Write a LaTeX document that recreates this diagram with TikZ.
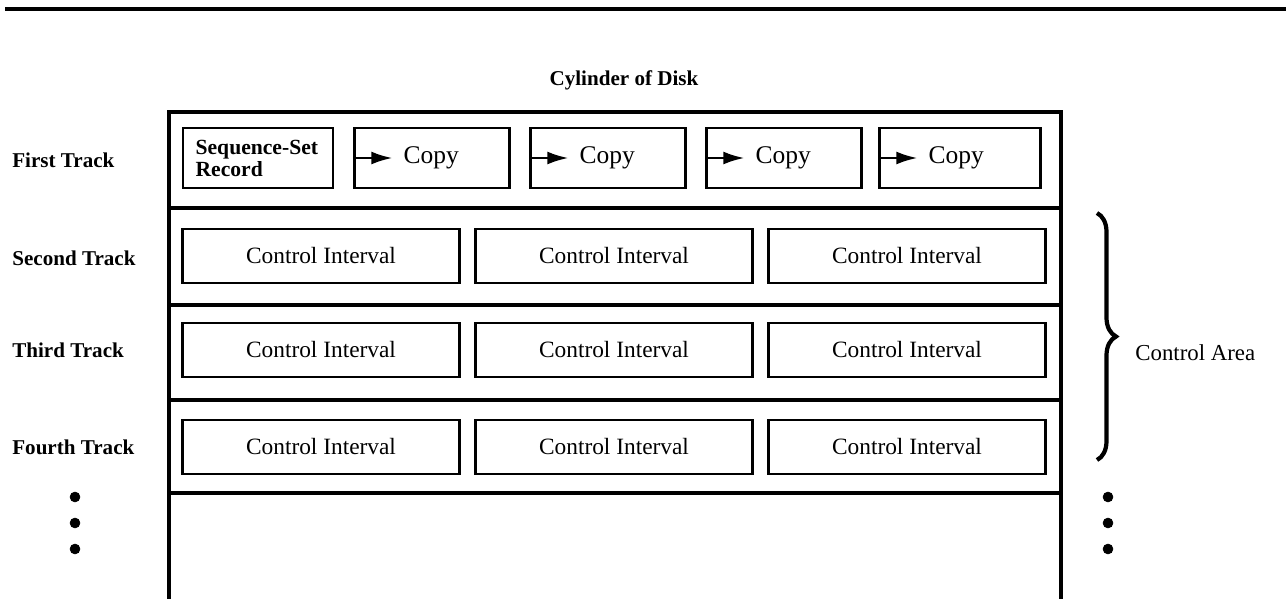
\documentclass[tikz,border=0pt]{standalone}
\usepackage{fontspec}
\setmainfont{Liberation Serif}
\usetikzlibrary{arrows.meta,decorations.pathreplacing,positioning}

\begin{document}
\begin{tikzpicture}[x=0.02cm,y=-0.02cm,
    frame/.style={line width=2.1pt},
    track/.style={font=\fontsize{12}{14}\selectfont\bfseries,anchor=west,inner sep=0pt},
    ci/.style={draw,line width=1.4pt,minimum width=5.54cm,minimum height=1.08cm,inner sep=0pt,font=\fontsize{13.3}{15}\selectfont},
    cp/.style={draw,line width=1.4pt,minimum width=3.1cm,minimum height=1.2cm,inner sep=0pt},
    cptext/.style={font=\fontsize{14.5}{16}\selectfont,anchor=west,inner sep=0pt},
    ptr/.style={line width=1.3pt,-{Latex[length=0.42cm,width=0.26cm]}}]
    \useasboundingbox (0,0) rectangle (1286,599);
    % top rule and title
    \draw[frame] (5,9) -- (1290,9);
    \node (title) at (624,80) {\fontsize{12}{14}\selectfont\bfseries Cylinder of Disk};
    % cylinder frame and tracks
    \draw[frame] (169,605) -- (169,112) -- (1061,112) -- (1061,605);
    \draw[frame] (169,208) -- (1061,208);
    \draw[frame] (169,305) -- (1061,305);
    \draw[frame] (169,400) -- (1061,400);
    \draw[frame] (169,493) -- (1061,493);
    % track names
    \node[track] (t1) at (12,160) {First Track};
    \node[track] (t2) at (12,258) {Second Track};
    \node[track] (t3) at (12,350) {Third Track};
    \node[track] (t4) at (12,447) {Fourth Track};
    \filldraw[black] (75,497) circle (2.8pt);
    \filldraw[black] (75,523) circle (2.8pt);
    \filldraw[black] (75,549) circle (2.8pt);
    % first track
    \node[cp,minimum width=3.0cm] (seq) at (258,158) {};
    \node[anchor=west,inner sep=0pt,align=left,font=\fontsize{12.3}{14}\selectfont\bfseries]
        (seqtext) at ([xshift=0.27cm]seq.west) {Sequence-Set\\[-1.5pt]Record};
    \node[cp] (cp1) at (432,158) {};
    \node[cp] (cp2) at (608,158) {};
    \node[cp] (cp3) at (784,158) {};
    \node[cp,minimum width=3.22cm] (cp4) at (960,158) {};
    \node[cptext] (ct1) at ([xshift=1.0cm]cp1.west) {Copy};
    \node[cptext] (ct2) at ([xshift=1.0cm]cp2.west) {Copy};
    \node[cptext] (ct3) at ([xshift=1.0cm]cp3.west) {Copy};
    \node[cptext] (ct4) at ([xshift=1.0cm]cp4.west) {Copy};
    \draw[ptr] ([xshift=0.05cm]cp1.west) -- ([xshift=-0.22cm]ct1.west);
    \draw[ptr] ([xshift=0.05cm]cp2.west) -- ([xshift=-0.22cm]ct2.west);
    \draw[ptr] ([xshift=0.05cm]cp3.west) -- ([xshift=-0.22cm]ct3.west);
    \draw[ptr] ([xshift=0.05cm]cp4.west) -- ([xshift=-0.22cm]ct4.west);
    % control intervals
    \node[ci] (ci21) at (321,256) {Control Interval};
    \node[ci] (ci22) at (614,256) {Control Interval};
    \node[ci] (ci23) at (907,256) {Control Interval};
    \node[ci] (ci31) at (321,350) {Control Interval};
    \node[ci] (ci32) at (614,350) {Control Interval};
    \node[ci] (ci33) at (907,350) {Control Interval};
    \node[ci] (ci41) at (321,447) {Control Interval};
    \node[ci] (ci42) at (614,447) {Control Interval};
    \node[ci] (ci43) at (907,447) {Control Interval};
    % control area brace
    \coordinate (btop) at (1097,213);
    \coordinate (bbot) at (1097,460);
    \draw[line width=2.4pt,decorate,decoration={brace,amplitude=0.38cm}] (btop) -- (bbot);
    \node[anchor=west,inner sep=0pt,font=\fontsize{13}{15}\selectfont] (area) at (1135,353) {Control Area};
    \filldraw[black] (1108,497) circle (2.8pt);
    \filldraw[black] (1108,523) circle (2.8pt);
    \filldraw[black] (1108,549) circle (2.8pt);
\end{tikzpicture}
\end{document}
